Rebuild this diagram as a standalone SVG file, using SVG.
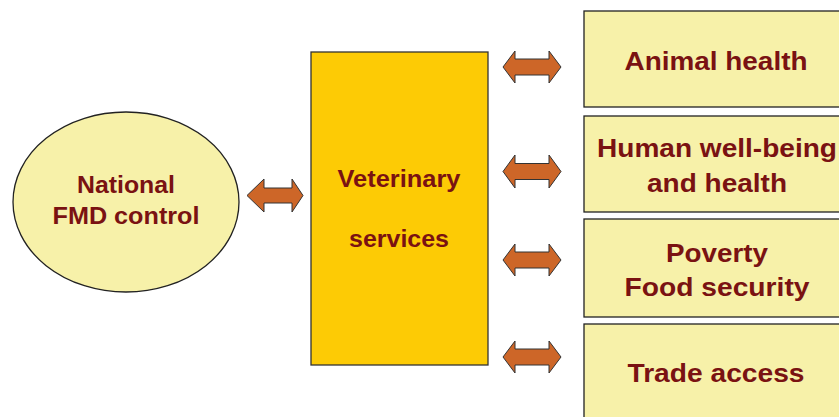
<svg xmlns="http://www.w3.org/2000/svg" width="839" height="417" viewBox="0 0 839 417">
<style>
.t{font-family:"Liberation Sans",Arial,sans-serif;font-weight:bold;fill:#7A1212;text-anchor:middle}
.big{font-size:26px}
.mid{font-size:23px}
.pale{fill:#F7F1A9;stroke:#222;stroke-width:1.3}
.arr{fill:#CD6628;stroke:#333;stroke-width:1}
</style>
<rect width="839" height="417" fill="#fff"/>
<g id="connectors">
<path class="arr" d="M247,195.5 L264,179 L264,188 L292,188 L292,179 L303,195.5 L292,212 L292,203 L264,203 L264,212 Z"/>
<path class="arr" d="M503,67 L515,51 L515,59 L549,59 L549,51 L561,67 L549,83 L549,75 L515,75 L515,83 Z"/>
<path class="arr" d="M503,171.5 L515,155 L515,163.5 L549,163.5 L549,155 L561,171.5 L549,188 L549,179.5 L515,179.5 L515,188 Z"/>
<path class="arr" d="M503,260 L515,244 L515,252 L549,252 L549,244 L561,260 L549,276 L549,268 L515,268 L515,276 Z"/>
<path class="arr" d="M503,357 L515,341 L515,349 L549,349 L549,341 L561,357 L549,373 L549,365 L515,365 L515,373 Z"/>
</g>
<g id="national">
<ellipse class="pale" cx="126" cy="202" rx="113" ry="90"/>
<text class="t mid" x="126" y="193" textLength="98" lengthAdjust="spacingAndGlyphs">National</text>
<text class="t mid" x="126" y="224" textLength="147" lengthAdjust="spacingAndGlyphs">FMD control</text>
</g>
<g id="veterinary">
<rect x="311" y="52" width="177" height="313" fill="#FDCB05" stroke="#333" stroke-width="1.3"/>
<text class="t mid" x="399" y="187" textLength="123" lengthAdjust="spacingAndGlyphs">Veterinary</text>
<text class="t mid" x="399" y="247" textLength="100" lengthAdjust="spacingAndGlyphs">services</text>
</g>
<g id="animal">
<rect class="pale" x="584" y="11" width="264" height="96"/>
<text class="t big" x="716" y="70" textLength="183" lengthAdjust="spacingAndGlyphs">Animal health</text>
</g>
<g id="human">
<rect class="pale" x="584" y="116" width="264" height="96"/>
<text class="t big" x="717" y="157" textLength="240" lengthAdjust="spacingAndGlyphs">Human well-being</text>
<text class="t big" x="717" y="192" textLength="140" lengthAdjust="spacingAndGlyphs">and health</text>
</g>
<g id="poverty">
<rect class="pale" x="584" y="219" width="264" height="98"/>
<text class="t big" x="717" y="262" textLength="102" lengthAdjust="spacingAndGlyphs">Poverty</text>
<text class="t big" x="717" y="296" textLength="185" lengthAdjust="spacingAndGlyphs">Food security</text>
</g>
<g id="trade">
<rect class="pale" x="584" y="324" width="264" height="110"/>
<text class="t big" x="716" y="382" textLength="177" lengthAdjust="spacingAndGlyphs">Trade access</text>
</g>
</svg>
